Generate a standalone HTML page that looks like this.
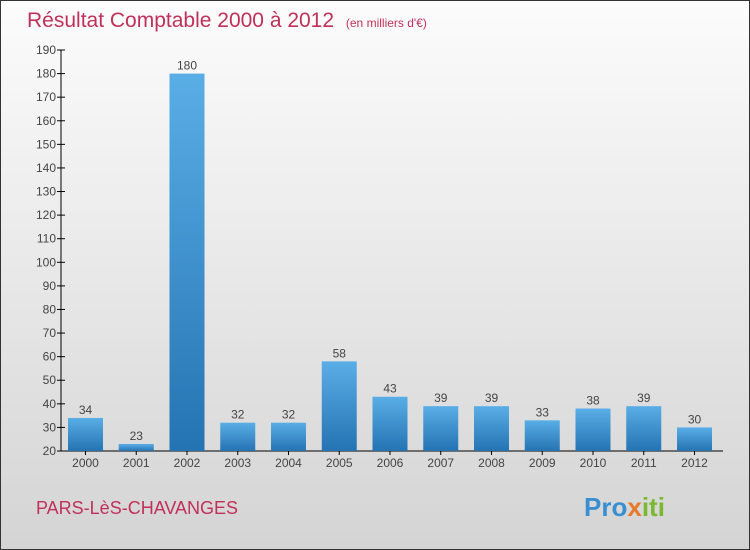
<!DOCTYPE html>
<html><head><meta charset="utf-8"><style>
body{margin:0}
#c{width:748px;height:548px;border:1px solid #333;background:linear-gradient(#fcfcfc,#d4d4d4);position:relative;font-family:"Liberation Sans",sans-serif;overflow:hidden}
</style></head><body>
<div id="c">
<svg width="748" height="548">
<defs><linearGradient id="bg" x1="0" y1="0" x2="0" y2="1"><stop offset="0" stop-color="#5aaee6"/><stop offset="1" stop-color="#2473b3"/></linearGradient></defs>
<text x="26" y="26" font-size="21" fill="#c0305a">Résultat Comptable 2000 à 2012 <tspan font-size="12" dx="6">(en milliers d'€)</tspan></text>
<g id="axes"></g>
<g id="bars"></g>
<text x="35" y="513" font-size="18" fill="#c0305a">PARS-LèS-CHAVANGES</text>
<text x="583" y="515" font-size="26" font-weight="bold"><tspan fill="#3a8fd0">Pro</tspan><tspan fill="#e8792a">x</tspan><tspan fill="#7ab830">iti</tspan></text>
</svg></div>
<script>
const categories=["2000","2001","2002","2003","2004","2005","2006","2007","2008","2009","2010","2011","2012"];
const values=[34,23,180,32,32,58,43,39,39,33,38,39,30];
const yTicks=[20,30,40,50,60,70,80,90,100,110,120,130,140,150,160,170,180,190];
const NS="http://www.w3.org/2000/svg";
const y=v=>450-(v-20)*(401/170);
const x=i=>84.5+i*50.75;
function mk(t,a,p){const e=document.createElementNS(NS,t);for(const k in a)e.setAttribute(k,a[k]);p.appendChild(e);return e;}
const ax=document.getElementById('axes'),bs=document.getElementById('bars');
let l=mk('line',{x1:60,y1:y(190),x2:60,y2:450,stroke:'#000'},ax);


l=mk('line',{x1:60,y1:450,x2:722,y2:450,stroke:'#000'},ax);


yTicks.forEach(v=>{
 const t=mk('line',{x1:56,x2:64,y1:y(v),y2:y(v),stroke:'#000'},ax);
 
 
 const s=mk('text',{x:55,y:y(v)+4,'font-size':12,fill:'#444','text-anchor':'end'},ax);
 s.textContent=v;
 
 
});
categories.forEach((c,i)=>{
 const cx=x(i),v=values[i];
 const r=mk('rect',{x:cx-17.5,y:y(v),width:35,height:450-y(v),fill:'url(#bg)'},bs);
 
 
 const t=mk('line',{x1:cx,x2:cx,y1:450,y2:454,stroke:'#000'},ax);
 
 
 const s=mk('text',{x:cx,y:466,'font-size':12,fill:'#444','text-anchor':'middle'},ax);
 s.textContent=c;
 
 
 const vl=mk('text',{x:cx,y:y(v)-4,'font-size':12,fill:'#444','text-anchor':'middle'},bs);
 vl.textContent=v;
 
 
});
</script>
</body></html>
